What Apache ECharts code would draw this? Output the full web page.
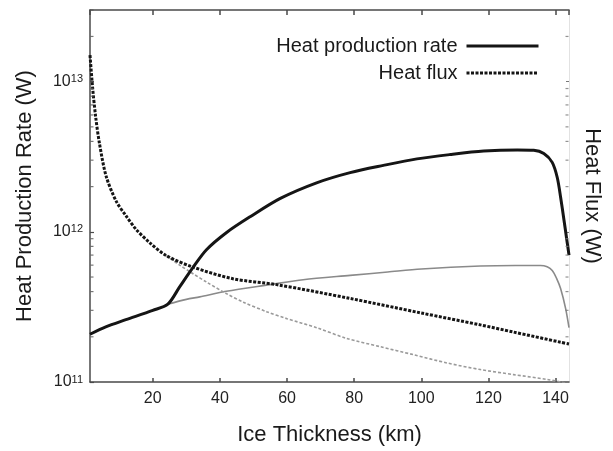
<!DOCTYPE html>
<html>
<head>
<meta charset="utf-8">
<script src="https://cdn.jsdelivr.net/npm/echarts@6/dist/echarts.min.js"></script>
<style>html,body{margin:0;padding:0;background:#fff}#c{width:613px;height:451px}</style>
</head>
<body>
<div id="c"></div>
<script>
// ---- data ----
var prodX = [1.3, 6, 12, 20, 24.5, 28, 32, 36, 42, 49, 58, 68.8, 78.8, 88.7, 98.7, 108.6, 118.6, 128.6, 133.5, 136.5, 139, 140.5, 141.5, 142.5, 143.3, 144];
var prodY = [2.08e11, 2.33e11, 2.6e11, 3.0e11, 3.3e11, 4.3e11, 5.8e11, 7.6e11, 9.9e11, 1.26e12, 1.67e12, 2.12e12, 2.48e12, 2.77e12, 3.06e12, 3.27e12, 3.45e12, 3.51e12, 3.49e12, 3.32e12, 2.9e12, 2.3e12, 1.7e12, 1.2e12, 9e11, 7e11];

var prodGrayX = [24.5, 30, 34, 41.9, 54.9, 64.8, 78.8, 90, 100, 117.6, 128, 135.5, 137.5, 139, 140.3, 141.5, 143, 144];
var prodGrayY = [3.3e11, 3.55e11, 3.69e11, 4.02e11, 4.45e11, 4.8e11, 5.13e11, 5.4e11, 5.65e11, 5.92e11, 5.97e11, 5.97e11, 5.85e11, 5.53e11, 4.9e11, 4.19e11, 3.08e11, 2.3e11];

var fluxX = [1.3, 2.1, 3, 4.1, 6.1, 9.1, 12, 15, 19, 24, 32, 43.9, 56.9, 78.8, 100, 117.6, 127.5, 141.5, 144];
var fluxY = [1.5e13, 9.0e12, 5.8e12, 3.9e12, 2.35e12, 1.6e12, 1.28e12, 1.04e12, 8.5e11, 6.95e11, 5.82e11, 4.87e11, 4.45e11, 3.6e11, 2.88e11, 2.4e11, 2.15e11, 1.84e11, 1.79e11];

var fluxGrayX = [24, 28, 32, 36, 41.9, 47, 53.9, 60, 68.8, 77.8, 87.7, 97.7, 107.6, 117.6, 127.5, 137.5, 141.5, 144];
var fluxGrayY = [6.95e11, 6.0e11, 5.26e11, 4.63e11, 3.88e11, 3.4e11, 2.94e11, 2.64e11, 2.3e11, 1.95e11, 1.72e11, 1.52e11, 1.34e11, 1.21e11, 1.12e11, 1.04e11, 1.0e11, 0.97e11];

var xTickLabels = [20, 40, 60, 80, 100, 120, 140];
var yMajorTicks = [1e11, 1e12, 1e13];
var yMinorTicks = [2e11, 3e11, 4e11, 5e11, 6e11, 7e11, 8e11, 9e11, 2e12, 3e12, 4e12, 5e12, 6e12, 7e12, 8e12, 9e12, 2e13, 3e13];

var X_MIN = 1.3, X_MAX = 144, Y_MIN = 1e11, Y_MAX = 3e13;

function zip(xs, ys) { return xs.map(function (x, i) { return [x, ys[i]]; }); }

var FONT = '"Liberation Sans", Arial, Helvetica, sans-serif';
var chart = echarts.init(document.getElementById('c'), null, { renderer: 'canvas' });

function yLabel(v) {
  var e = Math.round(Math.log10(v));
  if (Math.abs(v - Math.pow(10, e)) / v > 1e-6 || yMajorTicks.indexOf(Math.pow(10, e)) < 0) return '';
  return '{b|10}{s|' + e + '}';
}

var option = {
  animation: false,
  backgroundColor: '#fff',
  textStyle: { fontFamily: FONT },
  grid: { left: 90, right: 44, top: 10, bottom: 67, containLabel: false },
  legend: {
    data: ['Heat production rate', 'Heat flux'],
    orient: 'vertical',
    align: 'right',
    right: 73,
    top: 36,
    padding: 0,
    itemWidth: 72,
    itemHeight: 14,
    itemGap: 7,
    itemStyle: { opacity: 0 },
    lineStyle: { width: 3 },
    textStyle: { fontFamily: FONT, fontSize: 20, color: '#1a1a1a', lineHeight: 20, padding: [0, 4, 0, 0] }
  },
  xAxis: [{
    type: 'value', min: X_MIN, max: X_MAX, splitNumber: 7,
    name: 'Ice Thickness (km)', nameLocation: 'middle', nameGap: 42,
    nameTextStyle: { fontFamily: FONT, fontSize: 22, color: '#1a1a1a' },
    axisLine: { show: true, lineStyle: { color: '#4a4a4a', width: 1.5 } },
    axisTick: { show: true, inside: true, length: 4, lineStyle: { color: '#4a4a4a', width: 1.5 } },
    axisLabel: {
      fontFamily: FONT, fontSize: 16, color: '#222', margin: 9,
      showMinLabel: false, showMaxLabel: false,
      formatter: function (v) { return xTickLabels.indexOf(v) >= 0 ? String(v) : ''; }
    },
    splitLine: { show: false }
  }, {
    type: 'value', min: X_MIN, max: X_MAX, splitNumber: 7, position: 'top',
    axisLine: { show: true, lineStyle: { color: '#4a4a4a', width: 1.5 } },
    axisTick: { show: true, inside: true, length: 5, lineStyle: { color: '#4a4a4a', width: 1.5 } },
    axisLabel: { show: false },
    splitLine: { show: false }
  }],
  yAxis: [{
    type: 'log', min: Y_MIN, max: Y_MAX, splitNumber: 2,
    name: 'Heat Production Rate (W)', nameLocation: 'middle', nameGap: 54, nameRotate: 90,
    nameTextStyle: { fontFamily: FONT, fontSize: 22, color: '#1a1a1a' },
    axisLine: { show: true, lineStyle: { color: '#4a4a4a', width: 1.5 } },
    axisTick: { show: true, inside: true, length: 4, lineStyle: { color: '#4a4a4a', width: 1.2 } },
    axisLabel: {
      margin: 7, showMaxLabel: false,
      formatter: yLabel,
      rich: {
        b: { fontFamily: FONT, fontSize: 16, color: '#222', lineHeight: 16 },
        s: { fontFamily: FONT, fontSize: 11, color: '#222', lineHeight: 11, verticalAlign: 'top' }
      }
    },
    splitLine: { show: false }
  }, {
    type: 'log', min: Y_MIN, max: Y_MAX, splitNumber: 2, position: 'right',
    name: 'Heat Flux (W)', nameLocation: 'middle', nameGap: 12, nameRotate: -90,
    nameTextStyle: { fontFamily: FONT, fontSize: 22, color: '#1a1a1a' },
    axisLine: { show: true, lineStyle: { color: '#e2e2e2', width: 1 } },
    axisTick: { show: true, inside: true, length: 3, lineStyle: { color: '#777', width: 1 } },
    axisLabel: { show: false },
    splitLine: { show: false }
  }],
  series: [
    {
      name: 'prodGray', type: 'line', data: zip(prodGrayX, prodGrayY), symbol: 'none', smooth: 0.3,
      lineStyle: { color: '#8a8a8a', width: 1.6 }, z: 2, silent: true
    },
    {
      name: 'fluxGray', type: 'line', data: zip(fluxGrayX, fluxGrayY), symbol: 'none', smooth: 0.3,
      lineStyle: { color: '#9a9a9a', width: 1.6, type: [3, 2] }, z: 2, silent: true
    },
    {
      name: 'Heat flux', type: 'line', data: zip(fluxX, fluxY), symbol: 'none', smooth: 0.3,
      lineStyle: { color: '#151515', width: 3, type: [3, 1.5] }, itemStyle: { color: '#151515' }, z: 3
    },
    {
      name: 'Heat production rate', type: 'line', data: zip(prodX, prodY), symbol: 'none', smooth: 0.3,
      lineStyle: { color: '#151515', width: 3 }, itemStyle: { color: '#151515' }, z: 4
    },
    {
      name: 'minorLeft', type: 'scatter', silent: true, z: 5,
      data: yMinorTicks.map(function (v) { return [X_MIN, v]; }),
      symbol: 'rect', symbolSize: [3, 1.2], symbolOffset: [2, 0],
      itemStyle: { color: '#555' }
    },
    {
      name: 'minorRight', type: 'scatter', silent: true, z: 5,
      data: yMinorTicks.map(function (v) { return [X_MAX, v]; }),
      symbol: 'rect', symbolSize: [3, 1.2], symbolOffset: [-2, 0],
      itemStyle: { color: '#777' }
    }
  ]
};
chart.setOption(option);
</script>
</body>
</html>
